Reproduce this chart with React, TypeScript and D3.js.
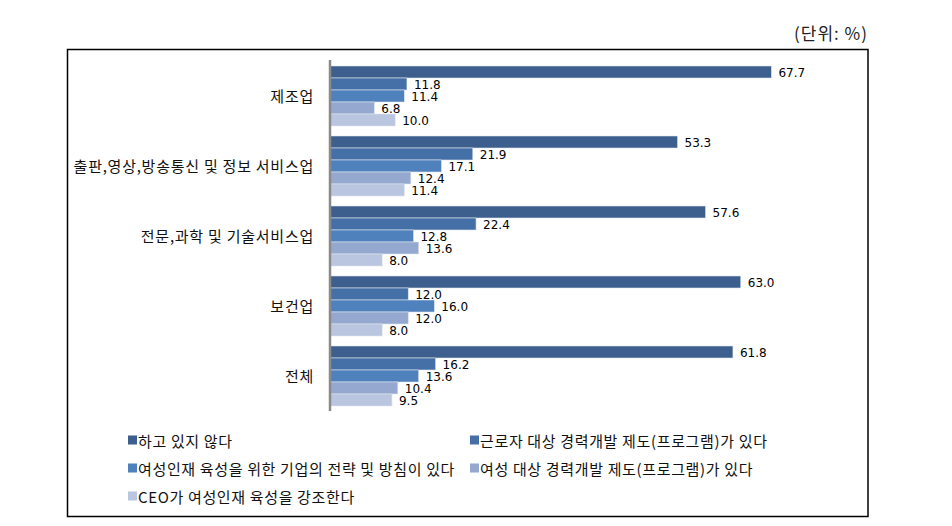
import React from "react";
import * as d3 from "d3";

const categories = ["제조업", "출판,영상,방송통신  및 정보 서비스업", "전문,과학 및 기술서비스업", "보건업", "전체"];
const seriesNames = [
  "하고 있지 않다",
  "근로자 대상 경력개발 제도(프로그램)가 있다",
  "여성인재 육성을 위한 기업의 전략 및 방침이 있다",
  "여성 대상 경력개발 제도(프로그램)가 있다",
  "CEO가 여성인재 육성을 강조한다",
];
const notDoing = [67.7, 53.3, 57.6, 63.0, 61.8];
const workerProgram = [11.8, 21.9, 22.4, 12.0, 16.2];
const strategy = [11.4, 17.1, 12.8, 16.0, 13.6];
const womenProgram = [6.8, 12.4, 13.6, 12.0, 10.4];
const ceoEmphasis = [10.0, 11.4, 8.0, 8.0, 9.5];
const seriesValues = [notDoing, workerProgram, strategy, womenProgram, ceoEmphasis];
const colors = ["#3C5F8D", "#4570A7", "#4F81BD", "#94A8D0", "#BAC6E0"];
const unitLabel = "(단위: %)";

const KR = "'Noto Sans CJK KR', 'Noto Sans', sans-serif";
const NUM = "'DejaVu Sans', sans-serif";

export default function App() {
  const W = 952, H = 526;
  const axisX = 330;
  const x = d3.scaleLinear().domain([0, 80]).range([axisX, 851.6]);
  const y = d3.scaleBand<string>().domain(categories).range([61, 411]).paddingInner(1 / 7).paddingOuter(1 / 14);
  const ys = d3.scaleBand<string>().domain(seriesNames).range([0, y.bandwidth()]).padding(0);

  const legendPos = [
    [128, 440], [470, 440],
    [128, 468], [470, 468],
    [128, 496],
  ];

  return (
    <svg width={W} height={H} style={{ position: "absolute", left: 0, top: 0, background: "#fff" }}>
      <text x={868} y={40} textAnchor="end" fontFamily={KR} fontSize={17} letterSpacing={1} fill="#222">{unitLabel}</text>
      <rect x={67.5} y={49.5} width={800.5} height={467} fill="none" stroke="#000" strokeWidth={1.5} />
      {categories.map((c, ci) => (
        <g key={c}>
          <text x={314} y={(y(c) as number) + y.bandwidth() / 2 - 1} textAnchor="end" dominantBaseline="central"
            fontFamily={KR} fontSize={15} letterSpacing={0.75} fill="#111">{c}</text>
          {seriesNames.map((s, si) => {
            const v = seriesValues[si][ci];
            const by = (y(c) as number) + (ys(s) as number);
            return (
              <g key={s}>
                <rect x={axisX} y={by} width={x(v) - axisX} height={ys.bandwidth()} fill={colors[si]}
                  stroke="#DDE3EE" strokeWidth={0.6} />
                <text x={x(v) + 7} y={by + ys.bandwidth() / 2 + 1} dominantBaseline="central"
                  fontFamily={NUM} fontSize={12} fill="#000">{v.toFixed(1)}</text>
              </g>
            );
          })}
        </g>
      ))}
      <line x1={axisX} x2={axisX} y1={60} y2={411} stroke="#8A8A8A" strokeWidth={2.5} />
      {seriesNames.map((s, si) => (
        <g key={s} transform={`translate(${legendPos[si][0]},${legendPos[si][1]})`}>
          <rect x={0} y={-4.5} width={9} height={9} fill={colors[si]} />
          <text x={10} y={0} dominantBaseline="central" fontFamily={KR} fontSize={15} letterSpacing={0.65} fill="#111">{s}</text>
        </g>
      ))}
    </svg>
  );
}
